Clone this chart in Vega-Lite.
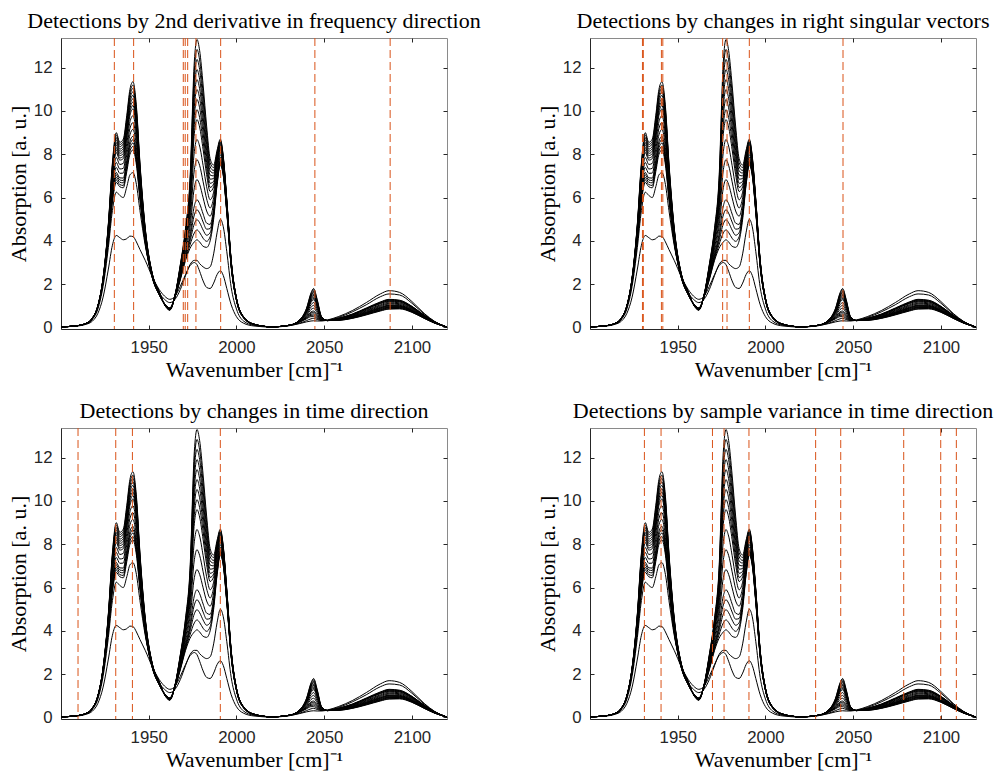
{
"$schema": "https://vega.github.io/schema/vega-lite/v6.json",
"background": "white",
"autosize": {"type": "pad"},
"padding": {"left": 6, "top": 9, "right": 0, "bottom": 0},
"config": {
 "view": {"stroke": "#8a8a8a", "strokeWidth": 1},
 "axis": {"labelFont": "Liberation Sans", "labelFontSize": 16.8, "labelColor": "#262626", "titleFont": "Liberation Serif", "titleFontSize": 22, "titleFontWeight": "normal", "titleColor": "#000000", "domainColor": "#262626", "tickColor": "#262626", "grid": false},
 "title": {"font": "Liberation Serif", "fontSize": 22, "fontWeight": "normal", "color": "#000000", "offset": 5}
},
"datasets": {
 "spec": [
{"x":1900,"a":0.03,"b":0.03,"c0":0.03,"c1":0.03,"c2":0.03,"c3":0.03,"c4":0.03,"c6":0.03,"c8":0.03,"c10":0.03,"c12":0.03,"c13":0.03,"c14":0.03,"c15":0.03,"c16":0.03,"c17":0.03,"c18":0.03,"c19":0.03,"c20":0.03},
{"x":1908,"a":0.06,"b":0.07,"c0":0.07,"c1":0.07,"c2":0.07,"c3":0.07,"c4":0.07,"c6":0.07,"c8":0.07,"c10":0.07,"c12":0.07,"c13":0.07,"c14":0.07,"c15":0.07,"c16":0.07,"c17":0.07,"c18":0.07,"c19":0.07,"c20":0.07},
{"x":1914,"a":0.14,"b":0.16,"c0":0.17,"c1":0.17,"c2":0.17,"c3":0.17,"c4":0.17,"c6":0.17,"c8":0.17,"c10":0.18,"c12":0.18,"c13":0.18,"c14":0.18,"c15":0.18,"c16":0.18,"c17":0.18,"c18":0.18,"c19":0.18,"c20":0.18},
{"x":1918,"a":0.3,"b":0.38,"c0":0.42,"c1":0.42,"c2":0.42,"c3":0.42,"c4":0.42,"c6":0.43,"c8":0.43,"c10":0.44,"c12":0.44,"c13":0.44,"c14":0.44,"c15":0.44,"c16":0.44,"c17":0.45,"c18":0.45,"c19":0.45,"c20":0.45},
{"x":1921,"a":0.65,"b":0.85,"c0":0.95,"c1":0.95,"c2":0.96,"c3":0.96,"c4":0.96,"c6":0.97,"c8":0.97,"c10":0.98,"c12":0.98,"c13":0.98,"c14":0.99,"c15":0.99,"c16":0.99,"c17":0.99,"c18":1,"c19":1,"c20":1},
{"x":1924,"a":1.4,"b":1.9,"c0":2.1,"c1":2.11,"c2":2.12,"c3":2.13,"c4":2.14,"c6":2.16,"c8":2.18,"c10":2.2,"c12":2.22,"c13":2.23,"c14":2.24,"c15":2.25,"c16":2.26,"c17":2.27,"c18":2.28,"c19":2.29,"c20":2.3},
{"x":1927,"a":2.7,"b":3.7,"c0":4.0,"c1":4.04,"c2":4.08,"c3":4.12,"c4":4.16,"c6":4.24,"c8":4.32,"c10":4.4,"c12":4.48,"c13":4.52,"c14":4.56,"c15":4.6,"c16":4.64,"c17":4.68,"c18":4.72,"c19":4.76,"c20":4.8},
{"x":1929.3,"a":3.8,"b":5.4,"c0":5.8,"c1":5.89,"c2":5.98,"c3":6.07,"c4":6.16,"c6":6.34,"c8":6.52,"c10":6.7,"c12":6.88,"c13":6.97,"c14":7.06,"c15":7.15,"c16":7.24,"c17":7.33,"c18":7.42,"c19":7.51,"c20":7.6},
{"x":1931.5,"a":4.25,"b":6.25,"c0":6.7,"c1":6.82,"c2":6.93,"c3":7.05,"c4":7.16,"c6":7.39,"c8":7.62,"c10":7.85,"c12":8.08,"c13":8.2,"c14":8.31,"c15":8.43,"c16":8.54,"c17":8.66,"c18":8.77,"c19":8.89,"c20":9.0},
{"x":1933.5,"a":4.15,"b":6.1,"c0":6.5,"c1":6.6,"c2":6.71,"c3":6.81,"c4":6.91,"c6":7.12,"c8":7.32,"c10":7.53,"c12":7.73,"c13":7.83,"c14":7.94,"c15":8.04,"c16":8.14,"c17":8.24,"c18":8.35,"c19":8.45,"c20":8.55},
{"x":1935.5,"a":4.05,"b":6.0,"c0":6.45,"c1":6.56,"c2":6.68,"c3":6.79,"c4":6.9,"c6":7.13,"c8":7.35,"c10":7.58,"c12":7.8,"c13":7.91,"c14":8.03,"c15":8.14,"c16":8.25,"c17":8.36,"c18":8.48,"c19":8.59,"c20":8.7},
{"x":1937.5,"a":4.1,"b":6.5,"c0":7.2,"c1":7.33,"c2":7.46,"c3":7.59,"c4":7.72,"c6":7.98,"c8":8.24,"c10":8.5,"c12":8.76,"c13":8.89,"c14":9.02,"c15":9.15,"c16":9.28,"c17":9.41,"c18":9.54,"c19":9.67,"c20":9.8},
{"x":1939.3,"a":4.22,"b":7.05,"c0":8.0,"c1":8.15,"c2":8.3,"c3":8.45,"c4":8.6,"c6":8.9,"c8":9.2,"c10":9.5,"c12":9.8,"c13":9.95,"c14":10.1,"c15":10.25,"c16":10.4,"c17":10.55,"c18":10.7,"c19":10.85,"c20":11.0},
{"x":1941,"a":4.2,"b":7.15,"c0":8.2,"c1":8.36,"c2":8.52,"c3":8.67,"c4":8.83,"c6":9.15,"c8":9.46,"c10":9.78,"c12":10.09,"c13":10.25,"c14":10.41,"c15":10.56,"c16":10.72,"c17":10.88,"c18":11.04,"c19":11.19,"c20":11.35},
{"x":1943,"a":3.95,"b":6.6,"c0":7.5,"c1":7.64,"c2":7.77,"c3":7.91,"c4":8.04,"c6":8.31,"c8":8.58,"c10":8.85,"c12":9.12,"c13":9.26,"c14":9.39,"c15":9.53,"c16":9.66,"c17":9.8,"c18":9.93,"c19":10.07,"c20":10.2},
{"x":1945,"a":3.6,"b":5.4,"c0":5.9,"c1":5.99,"c2":6.07,"c3":6.16,"c4":6.24,"c6":6.41,"c8":6.58,"c10":6.75,"c12":6.92,"c13":7.01,"c14":7.09,"c15":7.18,"c16":7.26,"c17":7.35,"c18":7.43,"c19":7.52,"c20":7.6},
{"x":1948,"a":3.1,"b":3.8,"c0":3.9,"c1":3.94,"c2":3.97,"c3":4.01,"c4":4.04,"c6":4.11,"c8":4.18,"c10":4.25,"c12":4.32,"c13":4.36,"c14":4.39,"c15":4.43,"c16":4.46,"c17":4.5,"c18":4.53,"c19":4.57,"c20":4.6},
{"x":1952,"a":2.35,"b":2.4,"c0":2.3,"c1":2.31,"c2":2.32,"c3":2.33,"c4":2.34,"c6":2.36,"c8":2.38,"c10":2.4,"c12":2.42,"c13":2.43,"c14":2.44,"c15":2.45,"c16":2.46,"c17":2.47,"c18":2.48,"c19":2.49,"c20":2.5},
{"x":1956,"a":1.75,"b":1.6,"c0":1.5,"c1":1.51,"c2":1.52,"c3":1.52,"c4":1.53,"c6":1.55,"c8":1.56,"c10":1.58,"c12":1.59,"c13":1.6,"c14":1.61,"c15":1.61,"c16":1.62,"c17":1.63,"c18":1.64,"c19":1.64,"c20":1.65},
{"x":1959,"a":1.45,"b":1.3,"c0":1.1,"c1":1.1,"c2":1.1,"c3":1.09,"c4":1.09,"c6":1.09,"c8":1.08,"c10":1.08,"c12":1.07,"c13":1.07,"c14":1.07,"c15":1.06,"c16":1.06,"c17":1.06,"c18":1.06,"c19":1.05,"c20":1.05},
{"x":1962,"a":1.3,"b":1.15,"c0":0.9,"c1":0.9,"c2":0.89,"c3":0.89,"c4":0.88,"c6":0.87,"c8":0.86,"c10":0.85,"c12":0.84,"c13":0.84,"c14":0.83,"c15":0.83,"c16":0.82,"c17":0.82,"c18":0.81,"c19":0.81,"c20":0.8},
{"x":1965,"a":1.45,"b":1.3,"c0":1.4,"c1":1.41,"c2":1.41,"c3":1.42,"c4":1.42,"c6":1.43,"c8":1.44,"c10":1.45,"c12":1.46,"c13":1.47,"c14":1.47,"c15":1.48,"c16":1.48,"c17":1.49,"c18":1.49,"c19":1.5,"c20":1.5},
{"x":1968,"a":1.9,"b":1.75,"c0":2.2,"c1":2.24,"c2":2.27,"c3":2.31,"c4":2.34,"c6":2.41,"c8":2.48,"c10":2.55,"c12":2.62,"c13":2.66,"c14":2.69,"c15":2.73,"c16":2.76,"c17":2.8,"c18":2.83,"c19":2.87,"c20":2.9},
{"x":1971,"a":2.45,"b":2.4,"c0":3.1,"c1":3.18,"c2":3.25,"c3":3.33,"c4":3.4,"c6":3.55,"c8":3.7,"c10":3.85,"c12":4.0,"c13":4.08,"c14":4.15,"c15":4.23,"c16":4.3,"c17":4.38,"c18":4.45,"c19":4.53,"c20":4.6},
{"x":1973.5,"a":2.85,"b":2.9,"c0":3.65,"c1":3.81,"c2":3.97,"c3":4.12,"c4":4.28,"c6":4.6,"c8":4.91,"c10":5.23,"c12":5.54,"c13":5.7,"c14":5.86,"c15":6.01,"c16":6.17,"c17":6.33,"c18":6.49,"c19":6.64,"c20":6.8},
{"x":1976,"a":3.0,"b":3.1,"c0":3.95,"c1":4.37,"c2":4.79,"c3":5.2,"c4":5.62,"c6":6.46,"c8":7.29,"c10":8.13,"c12":8.96,"c13":9.38,"c14":9.8,"c15":10.21,"c16":10.63,"c17":11.05,"c18":11.47,"c19":11.88,"c20":12.3},
{"x":1977.5,"a":2.9,"b":3.1,"c0":4.05,"c1":4.51,"c2":4.98,"c3":5.44,"c4":5.9,"c6":6.83,"c8":7.75,"c10":8.68,"c12":9.6,"c13":10.06,"c14":10.53,"c15":10.99,"c16":11.45,"c17":11.91,"c18":12.38,"c19":12.84,"c20":13.3},
{"x":1979,"a":2.6,"b":2.95,"c0":3.95,"c1":4.39,"c2":4.84,"c3":5.28,"c4":5.72,"c6":6.61,"c8":7.49,"c10":8.38,"c12":9.26,"c13":9.7,"c14":10.15,"c15":10.59,"c16":11.03,"c17":11.47,"c18":11.92,"c19":12.36,"c20":12.8},
{"x":1981,"a":2.15,"b":2.8,"c0":3.75,"c1":4.12,"c2":4.5,"c3":4.87,"c4":5.24,"c6":5.99,"c8":6.73,"c10":7.48,"c12":8.22,"c13":8.59,"c14":8.97,"c15":9.34,"c16":9.71,"c17":10.08,"c18":10.46,"c19":10.83,"c20":11.2},
{"x":1983,"a":1.85,"b":2.72,"c0":3.7,"c1":3.98,"c2":4.26,"c3":4.54,"c4":4.82,"c6":5.38,"c8":5.94,"c10":6.5,"c12":7.06,"c13":7.34,"c14":7.62,"c15":7.9,"c16":8.18,"c17":8.46,"c18":8.74,"c19":9.02,"c20":9.3},
{"x":1985,"a":1.8,"b":2.8,"c0":4.0,"c1":4.19,"c2":4.38,"c3":4.57,"c4":4.76,"c6":5.14,"c8":5.52,"c10":5.9,"c12":6.28,"c13":6.47,"c14":6.66,"c15":6.85,"c16":7.04,"c17":7.23,"c18":7.42,"c19":7.61,"c20":7.8},
{"x":1987,"a":2.05,"b":3.4,"c0":5.0,"c1":5.13,"c2":5.25,"c3":5.38,"c4":5.5,"c6":5.75,"c8":6.0,"c10":6.25,"c12":6.5,"c13":6.63,"c14":6.75,"c15":6.88,"c16":7.0,"c17":7.13,"c18":7.25,"c19":7.38,"c20":7.5},
{"x":1989,"a":2.45,"b":4.4,"c0":6.6,"c1":6.68,"c2":6.76,"c3":6.84,"c4":6.92,"c6":7.08,"c8":7.24,"c10":7.4,"c12":7.56,"c13":7.64,"c14":7.72,"c15":7.8,"c16":7.88,"c17":7.96,"c18":8.04,"c19":8.12,"c20":8.2},
{"x":1990.8,"a":2.62,"b":5.0,"c0":7.5,"c1":7.56,"c2":7.62,"c3":7.68,"c4":7.74,"c6":7.86,"c8":7.98,"c10":8.1,"c12":8.22,"c13":8.28,"c14":8.34,"c15":8.4,"c16":8.46,"c17":8.52,"c18":8.58,"c19":8.64,"c20":8.7},
{"x":1992.5,"a":2.4,"b":4.65,"c0":7.0,"c1":7.05,"c2":7.09,"c3":7.14,"c4":7.18,"c6":7.27,"c8":7.36,"c10":7.45,"c12":7.54,"c13":7.59,"c14":7.63,"c15":7.68,"c16":7.72,"c17":7.77,"c18":7.81,"c19":7.86,"c20":7.9},
{"x":1994.5,"a":1.8,"b":3.5,"c0":5.3,"c1":5.33,"c2":5.36,"c3":5.39,"c4":5.42,"c6":5.48,"c8":5.54,"c10":5.6,"c12":5.66,"c13":5.69,"c14":5.72,"c15":5.75,"c16":5.78,"c17":5.81,"c18":5.84,"c19":5.87,"c20":5.9},
{"x":1997,"a":1.05,"b":1.85,"c0":2.8,"c1":2.82,"c2":2.83,"c3":2.85,"c4":2.86,"c6":2.89,"c8":2.92,"c10":2.95,"c12":2.98,"c13":3.0,"c14":3.01,"c15":3.03,"c16":3.04,"c17":3.06,"c18":3.07,"c19":3.09,"c20":3.1},
{"x":2000,"a":0.5,"b":0.85,"c0":1.25,"c1":1.26,"c2":1.26,"c3":1.27,"c4":1.27,"c6":1.28,"c8":1.29,"c10":1.3,"c12":1.31,"c13":1.32,"c14":1.32,"c15":1.33,"c16":1.33,"c17":1.34,"c18":1.34,"c19":1.35,"c20":1.35},
{"x":2004,"a":0.2,"b":0.3,"c0":0.45,"c1":0.45,"c2":0.46,"c3":0.46,"c4":0.46,"c6":0.47,"c8":0.47,"c10":0.48,"c12":0.48,"c13":0.48,"c14":0.49,"c15":0.49,"c16":0.49,"c17":0.49,"c18":0.5,"c19":0.5,"c20":0.5},
{"x":2010,"a":0.07,"b":0.1,"c0":0.14,"c1":0.14,"c2":0.14,"c3":0.14,"c4":0.14,"c6":0.14,"c8":0.14,"c10":0.15,"c12":0.15,"c13":0.15,"c14":0.15,"c15":0.15,"c16":0.15,"c17":0.15,"c18":0.15,"c19":0.15,"c20":0.15},
{"x":2020,"a":0.02,"b":0.03,"c0":0.03,"c1":0.03,"c2":0.03,"c3":0.03,"c4":0.03,"c6":0.03,"c8":0.03,"c10":0.03,"c12":0.03,"c13":0.03,"c14":0.03,"c15":0.03,"c16":0.03,"c17":0.03,"c18":0.03,"c19":0.03,"c20":0.03},
{"x":2030,"a":0.08,"b":0.09,"c0":0.1,"c1":0.1,"c2":0.1,"c3":0.1,"c4":0.1,"c6":0.1,"c8":0.1,"c10":0.1,"c12":0.1,"c13":0.1,"c14":0.1,"c15":0.1,"c16":0.1,"c17":0.1,"c18":0.1,"c19":0.1,"c20":0.1},
{"x":2036,"a":0.18,"b":0.2,"c0":0.25,"c1":0.26,"c2":0.26,"c3":0.27,"c4":0.27,"c6":0.28,"c8":0.29,"c10":0.3,"c12":0.31,"c13":0.32,"c14":0.32,"c15":0.33,"c16":0.33,"c17":0.34,"c18":0.34,"c19":0.35,"c20":0.35},
{"x":2040,"a":0.26,"b":0.32,"c0":0.4,"c1":0.43,"c2":0.45,"c3":0.48,"c4":0.5,"c6":0.55,"c8":0.6,"c10":0.65,"c12":0.7,"c13":0.73,"c14":0.75,"c15":0.78,"c16":0.8,"c17":0.83,"c18":0.85,"c19":0.88,"c20":0.9},
{"x":2042.5,"a":0.3,"b":0.4,"c0":0.5,"c1":0.56,"c2":0.61,"c3":0.67,"c4":0.72,"c6":0.83,"c8":0.94,"c10":1.05,"c12":1.16,"c13":1.22,"c14":1.27,"c15":1.33,"c16":1.38,"c17":1.44,"c18":1.49,"c19":1.55,"c20":1.6},
{"x":2044,"a":0.31,"b":0.42,"c0":0.5,"c1":0.57,"c2":0.63,"c3":0.7,"c4":0.76,"c6":0.89,"c8":1.02,"c10":1.15,"c12":1.28,"c13":1.35,"c14":1.41,"c15":1.48,"c16":1.54,"c17":1.61,"c18":1.67,"c19":1.74,"c20":1.8},
{"x":2046,"a":0.3,"b":0.37,"c0":0.42,"c1":0.46,"c2":0.51,"c3":0.55,"c4":0.6,"c6":0.68,"c8":0.77,"c10":0.86,"c12":0.95,"c13":0.99,"c14":1.04,"c15":1.08,"c16":1.12,"c17":1.17,"c18":1.21,"c19":1.26,"c20":1.3},
{"x":2048.5,"a":0.3,"b":0.32,"c0":0.32,"c1":0.33,"c2":0.34,"c3":0.35,"c4":0.36,"c6":0.37,"c8":0.39,"c10":0.41,"c12":0.43,"c13":0.44,"c14":0.45,"c15":0.46,"c16":0.46,"c17":0.47,"c18":0.48,"c19":0.49,"c20":0.5},
{"x":2052,"a":0.35,"b":0.34,"c0":0.32,"c1":0.32,"c2":0.32,"c3":0.32,"c4":0.32,"c6":0.32,"c8":0.32,"c10":0.32,"c12":0.32,"c13":0.32,"c14":0.32,"c15":0.32,"c16":0.32,"c17":0.32,"c18":0.32,"c19":0.32,"c20":0.32},
{"x":2058,"a":0.5,"b":0.46,"c0":0.42,"c1":0.42,"c2":0.41,"c3":0.41,"c4":0.4,"c6":0.39,"c8":0.38,"c10":0.38,"c12":0.37,"c13":0.36,"c14":0.36,"c15":0.35,"c16":0.35,"c17":0.34,"c18":0.34,"c19":0.33,"c20":0.33},
{"x":2066,"a":0.78,"b":0.72,"c0":0.62,"c1":0.61,"c2":0.6,"c3":0.59,"c4":0.58,"c6":0.56,"c8":0.54,"c10":0.52,"c12":0.5,"c13":0.49,"c14":0.48,"c15":0.47,"c16":0.46,"c17":0.45,"c18":0.44,"c19":0.43,"c20":0.42},
{"x":2074,"a":1.15,"b":1.05,"c0":0.9,"c1":0.88,"c2":0.87,"c3":0.85,"c4":0.84,"c6":0.8,"c8":0.77,"c10":0.74,"c12":0.71,"c13":0.69,"c14":0.68,"c15":0.66,"c16":0.64,"c17":0.63,"c18":0.61,"c19":0.6,"c20":0.58},
{"x":2082,"a":1.55,"b":1.42,"c0":1.18,"c1":1.16,"c2":1.14,"c3":1.12,"c4":1.1,"c6":1.05,"c8":1.01,"c10":0.97,"c12":0.93,"c13":0.91,"c14":0.89,"c15":0.87,"c16":0.84,"c17":0.82,"c18":0.8,"c19":0.78,"c20":0.76},
{"x":2087,"a":1.7,"b":1.55,"c0":1.3,"c1":1.28,"c2":1.26,"c3":1.23,"c4":1.21,"c6":1.17,"c8":1.12,"c10":1.08,"c12":1.03,"c13":1.01,"c14":0.99,"c15":0.96,"c16":0.94,"c17":0.92,"c18":0.9,"c19":0.87,"c20":0.85},
{"x":2093,"a":1.62,"b":1.5,"c0":1.26,"c1":1.24,"c2":1.22,"c3":1.2,"c4":1.18,"c6":1.14,"c8":1.1,"c10":1.06,"c12":1.02,"c13":1.0,"c14":0.98,"c15":0.96,"c16":0.94,"c17":0.92,"c18":0.9,"c19":0.88,"c20":0.86},
{"x":2100,"a":1.2,"b":1.12,"c0":0.98,"c1":0.97,"c2":0.95,"c3":0.94,"c4":0.92,"c6":0.9,"c8":0.87,"c10":0.84,"c12":0.81,"c13":0.8,"c14":0.78,"c15":0.77,"c16":0.76,"c17":0.74,"c18":0.73,"c19":0.71,"c20":0.7},
{"x":2107,"a":0.65,"b":0.62,"c0":0.57,"c1":0.56,"c2":0.56,"c3":0.55,"c4":0.54,"c6":0.53,"c8":0.51,"c10":0.5,"c12":0.48,"c13":0.47,"c14":0.47,"c15":0.46,"c16":0.45,"c17":0.44,"c18":0.44,"c19":0.43,"c20":0.42},
{"x":2113,"a":0.28,"b":0.27,"c0":0.26,"c1":0.26,"c2":0.25,"c3":0.25,"c4":0.25,"c6":0.24,"c8":0.24,"c10":0.23,"c12":0.22,"c13":0.22,"c14":0.22,"c15":0.22,"c16":0.21,"c17":0.21,"c18":0.21,"c19":0.2,"c20":0.2},
{"x":2120,"a":0.02,"b":0.02,"c0":0.02,"c1":0.02,"c2":0.02,"c3":0.02,"c4":0.02,"c6":0.02,"c8":0.02,"c10":0.02,"c12":0.02,"c13":0.02,"c14":0.02,"c15":0.02,"c16":0.02,"c17":0.02,"c18":0.02,"c19":0.02,"c20":0.02}
 ]
},
"bounds": "flush",
"columns": 2,
"spacing": {"row": 99, "column": 143},
"concat": [
 {
  "title": "Detections by 2nd derivative in frequency direction",
  "width": 386, "height": 291,
  "resolve": {"axis": {"x": "independent", "y": "independent"}},
  "layer": [
   {"data": {"name": "spec"}, "transform": [{"fold": ["a","b","c0","c1","c2","c3","c4","c6","c8","c10","c12","c13","c14","c15","c16","c17","c18","c19","c20"], "as": ["curve", "y"]}],
    "mark": {"type": "line", "color": "#000000", "strokeWidth": 1, "interpolate": "monotone"},
    "encoding": {
     "x": {"field": "x", "type": "quantitative", "scale": {"domain": [1900, 2120], "nice": false, "zero": false}, "axis": {"values": [1950, 2000, 2050, 2100], "format": "d", "title": "Wavenumber [cm]⁻¹", "tickSize": -4, "labelPadding": 14.5, "titlePadding": 3}},
     "y": {"field": "y", "type": "quantitative", "scale": {"domain": [-0.07, 13.37], "nice": false, "zero": false}, "axis": {"values": [0, 2, 4, 6, 8, 10, 12], "title": "Absorption [a. u.]", "tickSize": -4, "labelPadding": 13, "titlePadding": 3}},
     "detail": {"field": "curve"}}},
   {"data": {"values": [{"x": 1930.4}, {"x": 1941.4}, {"x": 1969.7}, {"x": 1970.8}, {"x": 1972.2}, {"x": 1976.9}, {"x": 1991.0}, {"x": 2044.7}, {"x": 2087.6}]},
    "mark": {"type": "rule", "color": "#D95319", "strokeWidth": 1, "strokeDash": [8, 4]},
    "encoding": {"x": {"field": "x", "type": "quantitative", "axis": {"orient": "top", "values": [1950, 2000, 2050, 2100], "labels": false, "title": null, "domain": false, "tickSize": -4}}}},
   {"data": {"name": "spec"}, "transform": [{"filter": "datum.x == 2120"}],
    "mark": {"type": "point", "opacity": 0},
    "encoding": {"x": {"field": "x", "type": "quantitative", "axis": null}, "y": {"field": "c20", "type": "quantitative", "axis": {"orient": "right", "values": [0, 2, 4, 6, 8, 10, 12], "labels": false, "title": null, "domain": false, "tickSize": -4}}}}
  ]
 },
 {
  "title": "Detections by changes in right singular vectors",
  "width": 386, "height": 291,
  "resolve": {"axis": {"x": "independent", "y": "independent"}},
  "layer": [
   {"data": {"name": "spec"}, "transform": [{"fold": ["a","b","c0","c1","c2","c3","c4","c6","c8","c10","c12","c13","c14","c15","c16","c17","c18","c19","c20"], "as": ["curve", "y"]}],
    "mark": {"type": "line", "color": "#000000", "strokeWidth": 1, "interpolate": "monotone"},
    "encoding": {
     "x": {"field": "x", "type": "quantitative", "scale": {"domain": [1900, 2120], "nice": false, "zero": false}, "axis": {"values": [1950, 2000, 2050, 2100], "format": "d", "title": "Wavenumber [cm]⁻¹", "tickSize": -4, "labelPadding": 14.5, "titlePadding": 3}},
     "y": {"field": "y", "type": "quantitative", "scale": {"domain": [-0.07, 13.37], "nice": false, "zero": false}, "axis": {"values": [0, 2, 4, 6, 8, 10, 12], "title": "Absorption [a. u.]", "tickSize": -4, "labelPadding": 13, "titlePadding": 3}},
     "detail": {"field": "curve"}}},
   {"data": {"values": [{"x": 1929.9}, {"x": 1930.4}, {"x": 1940.7}, {"x": 1941.5}, {"x": 1975.6}, {"x": 1978.1}, {"x": 1990.8}, {"x": 2044.2}]},
    "mark": {"type": "rule", "color": "#D95319", "strokeWidth": 1, "strokeDash": [8, 4]},
    "encoding": {"x": {"field": "x", "type": "quantitative", "axis": {"orient": "top", "values": [1950, 2000, 2050, 2100], "labels": false, "title": null, "domain": false, "tickSize": -4}}}},
   {"data": {"name": "spec"}, "transform": [{"filter": "datum.x == 2120"}],
    "mark": {"type": "point", "opacity": 0},
    "encoding": {"x": {"field": "x", "type": "quantitative", "axis": null}, "y": {"field": "c20", "type": "quantitative", "axis": {"orient": "right", "values": [0, 2, 4, 6, 8, 10, 12], "labels": false, "title": null, "domain": false, "tickSize": -4}}}}
  ]
 },
 {
  "title": "Detections by changes in time direction",
  "width": 386, "height": 291,
  "resolve": {"axis": {"x": "independent", "y": "independent"}},
  "layer": [
   {"data": {"name": "spec"}, "transform": [{"fold": ["a","b","c0","c1","c2","c3","c4","c6","c8","c10","c12","c13","c14","c15","c16","c17","c18","c19","c20"], "as": ["curve", "y"]}],
    "mark": {"type": "line", "color": "#000000", "strokeWidth": 1, "interpolate": "monotone"},
    "encoding": {
     "x": {"field": "x", "type": "quantitative", "scale": {"domain": [1900, 2120], "nice": false, "zero": false}, "axis": {"values": [1950, 2000, 2050, 2100], "format": "d", "title": "Wavenumber [cm]⁻¹", "tickSize": -4, "labelPadding": 14.5, "titlePadding": 3}},
     "y": {"field": "y", "type": "quantitative", "scale": {"domain": [-0.07, 13.37], "nice": false, "zero": false}, "axis": {"values": [0, 2, 4, 6, 8, 10, 12], "title": "Absorption [a. u.]", "tickSize": -4, "labelPadding": 13, "titlePadding": 3}},
     "detail": {"field": "curve"}}},
   {"data": {"values": [{"x": 1909.7}, {"x": 1931.2}, {"x": 1940.7}, {"x": 1990.8}]},
    "mark": {"type": "rule", "color": "#D95319", "strokeWidth": 1, "strokeDash": [8, 4]},
    "encoding": {"x": {"field": "x", "type": "quantitative", "axis": {"orient": "top", "values": [1950, 2000, 2050, 2100], "labels": false, "title": null, "domain": false, "tickSize": -4}}}},
   {"data": {"name": "spec"}, "transform": [{"filter": "datum.x == 2120"}],
    "mark": {"type": "point", "opacity": 0},
    "encoding": {"x": {"field": "x", "type": "quantitative", "axis": null}, "y": {"field": "c20", "type": "quantitative", "axis": {"orient": "right", "values": [0, 2, 4, 6, 8, 10, 12], "labels": false, "title": null, "domain": false, "tickSize": -4}}}}
  ]
 },
 {
  "title": "Detections by sample variance in time direction",
  "width": 386, "height": 291,
  "resolve": {"axis": {"x": "independent", "y": "independent"}},
  "layer": [
   {"data": {"name": "spec"}, "transform": [{"fold": ["a","b","c0","c1","c2","c3","c4","c6","c8","c10","c12","c13","c14","c15","c16","c17","c18","c19","c20"], "as": ["curve", "y"]}],
    "mark": {"type": "line", "color": "#000000", "strokeWidth": 1, "interpolate": "monotone"},
    "encoding": {
     "x": {"field": "x", "type": "quantitative", "scale": {"domain": [1900, 2120], "nice": false, "zero": false}, "axis": {"values": [1950, 2000, 2050, 2100], "format": "d", "title": "Wavenumber [cm]⁻¹", "tickSize": -4, "labelPadding": 14.5, "titlePadding": 3}},
     "y": {"field": "y", "type": "quantitative", "scale": {"domain": [-0.07, 13.37], "nice": false, "zero": false}, "axis": {"values": [0, 2, 4, 6, 8, 10, 12], "title": "Absorption [a. u.]", "tickSize": -4, "labelPadding": 13, "titlePadding": 3}},
     "detail": {"field": "curve"}}},
   {"data": {"values": [{"x": 1931.0}, {"x": 1940.5}, {"x": 1969.8}, {"x": 1976.4}, {"x": 1990.6}, {"x": 2028.6}, {"x": 2042.9}, {"x": 2078.8}, {"x": 2099.9}, {"x": 2108.8}]},
    "mark": {"type": "rule", "color": "#D95319", "strokeWidth": 1, "strokeDash": [8, 4]},
    "encoding": {"x": {"field": "x", "type": "quantitative", "axis": {"orient": "top", "values": [1950, 2000, 2050, 2100], "labels": false, "title": null, "domain": false, "tickSize": -4}}}},
   {"data": {"name": "spec"}, "transform": [{"filter": "datum.x == 2120"}],
    "mark": {"type": "point", "opacity": 0},
    "encoding": {"x": {"field": "x", "type": "quantitative", "axis": null}, "y": {"field": "c20", "type": "quantitative", "axis": {"orient": "right", "values": [0, 2, 4, 6, 8, 10, 12], "labels": false, "title": null, "domain": false, "tickSize": -4}}}}
  ]
 }
]
}
